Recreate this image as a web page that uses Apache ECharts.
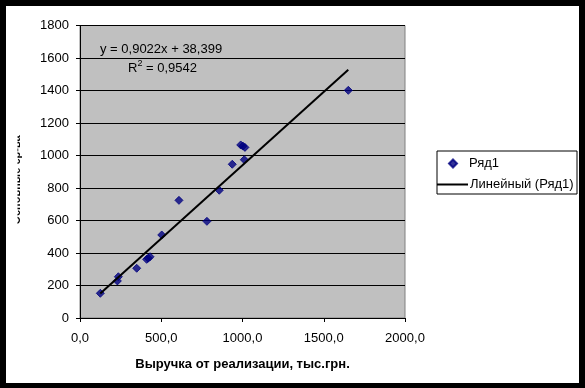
<!DOCTYPE html>
<html>
<head>
<meta charset="utf-8">
<script src="https://cdn.jsdelivr.net/npm/echarts@6/dist/echarts.min.js"></script>
<style>
html,body{margin:0;padding:0;background:#000;}
#c{width:585px;height:388px;}
</style>
</head>
<body>
<div id="c"></div>
<script>
// Data
var xValues = [125, 230, 236, 349, 410, 420, 431, 503, 609, 781, 857, 937, 989, 1002, 1015, 1011, 1651];
var yValues = [152, 228, 254, 306, 361, 368, 377, 511, 724, 595, 786, 946, 1065, 1058, 1050, 974, 1401];
var seriesName = 'Ряд1';
var trendName = 'Линейный (Ряд1)';
var trendSlope = 0.9022;
var trendIntercept = 38.399;
var trendR2 = '0,9542';
var xTicks = [0, 500, 1000, 1500, 2000];
var yTicks = [0, 200, 400, 600, 800, 1000, 1200, 1400, 1600, 1800];
var xTitle = 'Выручка от реализации, тыс.грн.';
var yTitle = 'Основные ср-ва';

var pts = xValues.map(function(x, i){ return [x, yValues[i]]; });
var xmin = Math.min.apply(null, xValues), xmax = Math.max.apply(null, xValues);
var trend = [[xmin, trendSlope*xmin + trendIntercept], [xmax, trendSlope*xmax + trendIntercept]];

var FONT = '"Liberation Sans", Arial, sans-serif';
var chart = echarts.init(document.getElementById('c'), null, {renderer:'canvas'});
chart.setOption({
  animation:false,
  backgroundColor:'#000',
  textStyle:{fontFamily:FONT},
  grid:{left:80, right:180, top:25.5, bottom:70, show:true, backgroundColor:'#c0c0c0', borderColor:'#808080', borderWidth:1, containLabel:false, outerBoundsMode:'none'},
  xAxis:{type:'value', min:xTicks[0], max:xTicks[xTicks.length-1], interval:500,
    axisLine:{show:true, lineStyle:{color:'#000', width:1}},
    axisTick:{show:true, inside:false, length:4, lineStyle:{color:'#000'}},
    splitLine:{show:false},
    axisLabel:{color:'#000', fontSize:13, fontFamily:FONT, margin:14, formatter:function(v){return v.toFixed(1).replace('.', ',');}},
    name:xTitle, nameLocation:'middle', nameGap:40,
    nameTextStyle:{color:'#000', fontSize:13, fontWeight:'bold', fontFamily:FONT}
  },
  yAxis:{type:'value', min:yTicks[0], max:yTicks[yTicks.length-1], interval:200,
    axisLine:{show:true, lineStyle:{color:'#000', width:1}},
    axisTick:{show:true, inside:false, length:4, lineStyle:{color:'#000'}},
    splitLine:{show:true, lineStyle:{color:'#000', width:1}},
    axisLabel:{color:'#000', fontSize:13, fontFamily:FONT, margin:11, formatter:function(v){return String(v);}}
  },
  legend:[
    {data:[{name:seriesName, icon:'diamond'}], orient:'vertical', left:448, top:157, itemWidth:8, itemHeight:8, itemGap:0,
      textStyle:{color:'#000', fontSize:13, fontFamily:FONT, padding:[0,0,0,7]}, padding:0},
    {data:[{name:trendName, icon:'rect'}], orient:'vertical', left:437, top:178, itemWidth:31, itemHeight:2, itemGap:0,
      textStyle:{color:'#000', fontSize:13, fontFamily:FONT, padding:[0,0,0,-3]}, padding:0}
  ],
  graphic:[
    {type:'rect', shape:{x:6, y:6, width:573, height:377}, style:{fill:'#fff'}, z:-10, silent:true},
    {type:'rect', shape:{x:437, y:151, width:140, height:43}, style:{fill:'#fff', stroke:'#000', lineWidth:1}, z:-5, silent:true},
    {type:'text', x:100, y:49, style:{text:'y = 0,9022x + ' + '38,399', font:'13px ' + FONT, fill:'#000', textVerticalAlign:'middle'}, z:100},
    {type:'text', x:128, y:68, style:{text:'R{s|2} = ' + trendR2, font:'13px ' + FONT, fill:'#000', textVerticalAlign:'middle',
        rich:{s:{fontSize:9, fontFamily:FONT, verticalAlign:'top', padding:[0,0,8,0]}}}, z:100},
    {type:'text', x:17, y:180, rotation:Math.PI/2, style:{text:yTitle, font:'bold 11px ' + FONT, fill:'#000', align:'center', verticalAlign:'middle'}, z:100},
    {type:'rect', shape:{x:6, y:120, width:11.5, height:120}, style:{fill:'#fff'}, z:101, silent:true}
  ],
  series:[
    {name:seriesName, type:'scatter', data:pts, symbol:'diamond', symbolSize:8,
      itemStyle:{color:'#000080', borderColor:'#000080', borderWidth:1}, z:3},
    {name:trendName, type:'line', data:trend, symbol:'none', showSymbol:false,
      lineStyle:{color:'#000', width:2}, itemStyle:{color:'#000'}, z:4}
  ]
});
</script>
</body>
</html>
